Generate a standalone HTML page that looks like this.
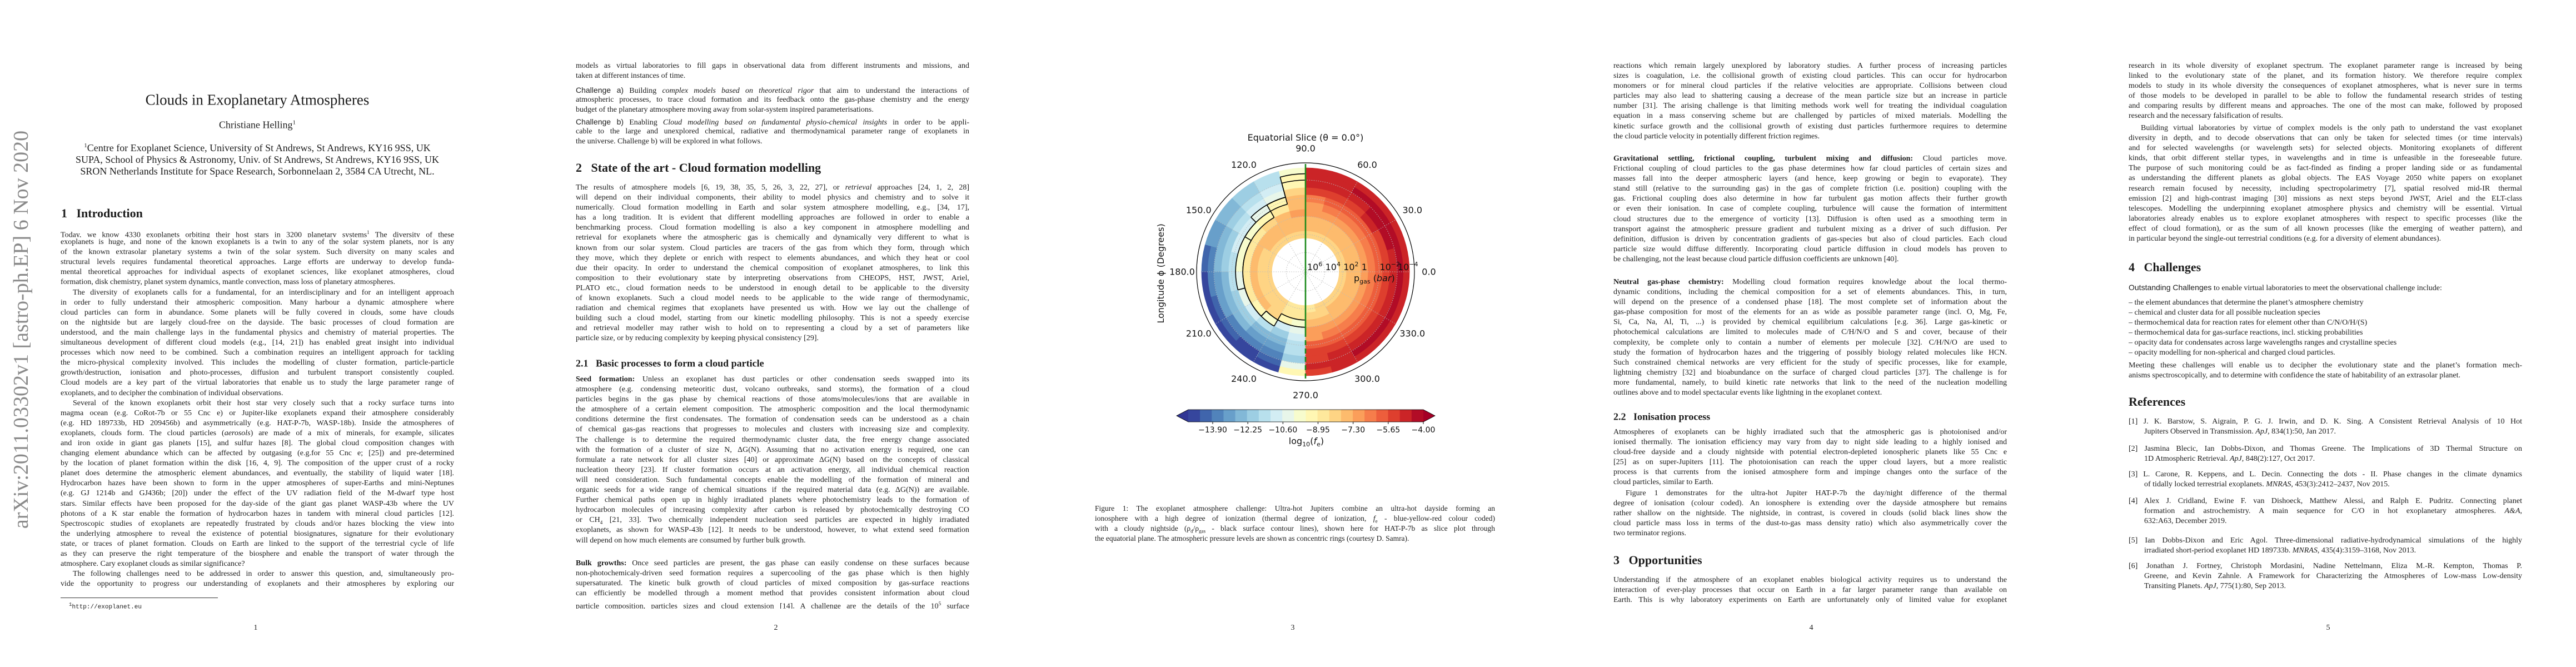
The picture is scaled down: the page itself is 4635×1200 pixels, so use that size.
<!DOCTYPE html>
<html><head><meta charset="utf-8">
<style>
html,body{margin:0;padding:0;background:#fff;}
#root{position:relative;width:4635px;height:1200px;overflow:hidden;background:#fff;color:#1c1c1c;font-family:"Liberation Serif",serif;}
.col{position:absolute;width:708px;font-size:14px;}
.l{height:18.1px;line-height:18.1px;white-space:nowrap;overflow:hidden;text-align:justify;text-align-last:justify;}
.e{text-align-last:left;}
.i{text-indent:22px;}
.h1{position:absolute;font-weight:bold;font-size:22px;white-space:nowrap;transform:translateY(-50%);}
.h2{position:absolute;font-weight:bold;font-size:18px;white-space:nowrap;transform:translateY(-50%);}
.pn{position:absolute;top:1122px;font-size:14px;width:20px;margin-left:-10px;text-align:center;}
.sans{font-family:"Liberation Sans",sans-serif;}
.ref .l{padding-left:28px;}
.ref .l:first-child{padding-left:0;}
</style></head><body>
<div id="root">

<div style="position:absolute;left:38px;top:593px;transform:translate(-50%,-50%) rotate(-90deg);font-size:38px;color:#8a8a8a;white-space:nowrap;">arXiv:2011.03302v1  [astro-ph.EP]  6 Nov 2020</div>

<!-- PAGE 1 -->
<div style="position:absolute;left:463px;top:180px;transform:translate(-50%,-50%);font-size:27px;white-space:nowrap;">Clouds in Exoplanetary Atmospheres</div>
<div style="position:absolute;left:463px;top:225px;transform:translate(-50%,-50%);font-size:18px;white-space:nowrap;">Christiane Helling<sup style="font-size:11px">1</sup></div>
<div style="position:absolute;left:463px;top:252px;transform:translateX(-50%);font-size:18px;line-height:21px;text-align:center;white-space:nowrap;"><sup style="font-size:11px">1</sup>Centre for Exoplanet Science, University of St Andrews, St Andrews, KY16 9SS, UK<br>SUPA, School of Physics &amp; Astronomy, Univ. of St Andrews, St Andrews, KY16 9SS, UK<br>SRON Netherlands Institute for Space Research, Sorbonnelaan 2, 3584 CA Utrecht, NL.</div>
<div class="h1" style="left:110px;top:384px;">1&nbsp;&nbsp;&nbsp;Introduction</div>
<div class="col" style="left:109px;top:409px;">
<div class="l">Today, we know 4330 exoplanets orbiting their host stars in 3200 planetary systems<sup style="font-size:9px">1</sup> The diversity of these</div>
<div class="l">exoplanets is huge, and none of the known exoplanets is a twin to any of the solar system planets, nor is any</div>
<div class="l">of the known extrasolar planetary systems a twin of the solar system. Such diversity on many scales and</div>
<div class="l">structural levels requires fundamental theoretical approaches. Large efforts are underway to develop funda-</div>
<div class="l">mental theoretical approaches for individual aspects of exoplanet sciences, like exoplanet atmospheres, cloud</div>
<div class="l e">formation, disk chemistry, planet system dynamics, mantle convection, mass loss of planetary atmospheres.</div>
<div class="l i">The diversity of exoplanets calls for a fundamental, for an interdisciplinary and for an intelligent approach</div>
<div class="l">in order to fully understand their atmospheric composition. Many harbour a dynamic atmosphere where</div>
<div class="l">cloud particles can form in abundance. Some planets will be fully covered in clouds, some have clouds</div>
<div class="l">on the nightside but are largely cloud-free on the dayside. The basic processes of cloud formation are</div>
<div class="l">understood, and the main challenge lays in the fundamental physics and chemistry of material properties. The</div>
<div class="l">simultaneous development of different cloud models (e.g., [14, 21]) has enabled great insight into individual</div>
<div class="l">processes which now need to be combined. Such a combination requires an intelligent approach for tackling</div>
<div class="l">the micro-physical complexity involved. This includes the modelling of cluster formation, particle-particle</div>
<div class="l">growth/destruction, ionisation and photo-processes, diffusion and turbulent transport consistently coupled.</div>
<div class="l">Cloud models are a key part of the virtual laboratories that enable us to study the large parameter range of</div>
<div class="l e">exoplanets, and to decipher the combination of individual observations.</div>
<div class="l i">Several of the known exoplanets orbit their host star very closely such that a rocky surface turns into</div>
<div class="l">magma ocean (e.g. CoRot-7b or 55 Cnc e) or Jupiter-like exoplanets expand their atmosphere considerably</div>
<div class="l">(e.g. HD 189733b, HD 209456b) and asymmetrically (e.g. HAT-P-7b, WASP-18b). Inside the atmospheres of</div>
<div class="l">exoplanets, clouds form. The cloud particles (<i>aerosols</i>) are made of a mix of minerals, for example, silicates</div>
<div class="l">and iron oxide in giant gas planets [15], and sulfur hazes [8]. The global cloud composition changes with</div>
<div class="l">changing element abundance which can be affected by outgasing (e.g.for 55 Cnc e; [25]) and pre-determined</div>
<div class="l">by the location of planet formation within the disk [16, 4, 9]. The composition of the upper crust of a rocky</div>
<div class="l">planet does determine the atmospheric element abundances, and eventually, the stability of liquid water [18].</div>
<div class="l">Hydrocarbon hazes have been shown to form in the upper atmospheres of super-Earths and mini-Neptunes</div>
<div class="l">(e.g. GJ 1214b and GJ436b; [20]) under the effect of the UV radiation field of the M-dwarf type host</div>
<div class="l">stars. Similar effects have been proposed for the day-side of the giant gas planet WASP-43b where the UV</div>
<div class="l">photons of a K star enable the formation of hydrocarbon hazes in tandem with mineral cloud particles [12].</div>
<div class="l">Spectroscopic studies of exoplanets are repeatedly frustrated by clouds and/or hazes blocking the view into</div>
<div class="l">the underlying atmosphere to reveal the existence of potential biosignatures, signature for their evolutionary</div>
<div class="l">state, or traces of planet formation. Clouds on Earth are linked to the support of the terrestrial cycle of life</div>
<div class="l">as they can preserve the right temperature of the biosphere and enable the transport of water through the</div>
<div class="l e">atmosphere. Cary exoplanet clouds as similar significance?</div>
<div class="l i">The following challenges need to be addressed in order to answer this question, and, simultaneously pro-</div>
<div class="l">vide the opportunity to progress our understanding of exoplanets and their atmospheres by exploring our</div>
</div>
<div style="position:absolute;left:109px;top:1075px;width:283px;height:1px;background:#333;"></div>
<div style="position:absolute;left:124px;top:1082px;font-size:11px;font-family:'Liberation Mono',monospace;"><sup>1</sup>http://exoplanet.eu</div>
<div class="pn" style="left:460px;">1</div>

<!-- PAGE 2 -->
<div class="col" style="left:1036px;top:110px;">
<div class="l">models as virtual laboratories to fill gaps in observational data from different instruments and missions, and</div>
<div class="l e">taken at different instances of time.</div>
</div>
<div class="col" style="left:1036px;top:153px;">
<div class="l"><span class="sans">Challenge a)</span> Building <i>complex models based on theoretical rigor</i> that aim to understand the interactions of</div>
<div class="l">atmospheric processes, to trace cloud formation and its feedback onto the gas-phase chemistry and the energy</div>
<div class="l e">budget of the planetary atmosphere moving away from solar-system inspired parameterisations.</div>
</div>
<div class="col" style="left:1036px;top:210px;">
<div class="l"><span class="sans">Challenge b)</span> Enabling <i>Cloud modelling based on fundamental physio-chemical insights</i> in order to be appli-</div>
<div class="l">cable to the large and unexplored chemical, radiative and thermodynamical parameter range of exoplanets in</div>
<div class="l e">the universe. Challenge b) will be explored in what follows.</div>
</div>
<div class="h1" style="left:1036px;top:302px;">2&nbsp;&nbsp;&nbsp;State of the art - Cloud formation modelling</div>
<div class="col" style="left:1036px;top:329px;">
<div class="l">The results of atmosphere models [6, 19, 38, 35, 5, 26, 3, 22, 27], or <i>retrieval</i> approaches [24, 1, 2, 28]</div>
<div class="l">will depend on their individual components, their ability to model physics and chemistry and to solve it</div>
<div class="l">numerically. Cloud formation modelling in Earth and solar system atmosphere modelling, e.g., [34, 17],</div>
<div class="l">has a long tradition. It is evident that different modelling approaches are followed in order to enable a</div>
<div class="l">benchmarking process. Cloud formation modelling is also a key component in atmosphere modelling and</div>
<div class="l">retrieval for exoplanets where the atmospheric gas is chemically and dynamically very different to what is</div>
<div class="l">known from our solar system. Cloud particles are tracers of the gas from which they form, through which</div>
<div class="l">they move, which they deplete or enrich with respect to elements abundances, and which they heat or cool</div>
<div class="l">due their opacity. In order to understand the chemical composition of exoplanet atmospheres, to link this</div>
<div class="l">composition to their evolutionary state by interpreting observations from CHEOPS, HST, JWST, Ariel,</div>
<div class="l">PLATO etc., cloud formation needs to be understood in enough detail to be applicable to the diversity</div>
<div class="l">of known exoplanets. Such a cloud model needs to be applicable to the wide range of thermodynamic,</div>
<div class="l">radiation and chemical regimes that exoplanets have presented us with. How we lay out the challenge of</div>
<div class="l">building such a cloud model, starting from our kinetic modelling philosophy. This is not a speedy exercise</div>
<div class="l">and retrieval modeller may rather wish to hold on to representing a cloud by a set of parameters like</div>
<div class="l e">particle size, or by reducing complexity by keeping physical consistency [29].</div>
</div>
<div class="h2" style="left:1036px;top:654px;">2.1&nbsp;&nbsp;&nbsp;Basic processes to form a cloud particle</div>
<div class="col" style="left:1036px;top:674px;">
<div class="l"><b>Seed formation:</b> Unless an exoplanet has dust particles or other condensation seeds swapped into its</div>
<div class="l">atmosphere (e.g. condensing meteoritic dust, volcano outbreaks, sand storms), the formation of a cloud</div>
<div class="l">particles begins in the gas phase by chemical reactions of those atoms/molecules/ions that are available in</div>
<div class="l">the atmosphere of a certain element composition. The atmospheric composition and the local thermodynamic</div>
<div class="l">conditions determine the first condensates. The formation of condensation seeds can be understood as a chain</div>
<div class="l">of chemical gas-gas reactions that progresses to molecules and clusters with increasing size and complexity.</div>
<div class="l">The challenge is to determine the required thermodynamic cluster data, the free energy change associated</div>
<div class="l">with the formation of a cluster of size N, ΔG(N). Assuming that no activation energy is required, one can</div>
<div class="l">formulate a rate network for all cluster sizes [40] or approximate ΔG(N) based on the concepts of classical</div>
<div class="l">nucleation theory [23]. If cluster formation occurs at an activation energy, all individual chemical reaction</div>
<div class="l">will need consideration. Such fundamental concepts enable the modelling of the formation of mineral and</div>
<div class="l">organic seeds for a wide range of chemical situations if the required material data (e.g. ΔG(N)) are available.</div>
<div class="l">Further chemical paths open up in highly irradiated planets where photochemistry leads to the formation of</div>
<div class="l">hydrocarbon molecules of increasing complexity after carbon is released by photochemically destroying CO</div>
<div class="l">or CH<sub style="font-size:9px">4</sub> [21, 33]. Two chemically independent nucleation seed particles are expected in highly irradiated</div>
<div class="l">exoplanets, as shown for WASP-43b [12]. It needs to be understood, however, to what extend seed formation</div>
<div class="l e">will depend on how much elements are consumed by further bulk growth.</div>
</div>
<div class="col" style="left:1036px;top:1005px;">
<div class="l"><b>Bulk growths:</b> Once seed particles are present, the gas phase can easily condense on these surfaces because</div>
<div class="l">non-photochemicaly-driven seed formation requires a supercooling of the gas phase which is then highly</div>
<div class="l">supersaturated. The kinetic bulk growth of cloud particles of mixed composition by gas-surface reactions</div>
<div class="l">can efficiently be modelled through a moment method that provides consistent information about cloud</div>
<div class="l">particle composition, particles sizes and cloud extension [14]. A challenge are the details of the 10<sup style="font-size:9px">5</sup> surface</div>
</div>
<div class="pn" style="left:1396px;">2</div>

<!-- PAGE 3 : figure -->
<svg id="chart" style="position:absolute;left:0;top:0;" width="4635" height="1200" font-family="DejaVu Sans, sans-serif"></svg>
<div class="col" style="left:1970px;top:906px;width:720px;font-size:13.5px;">
<div class="l">Figure 1: The exoplanet atmosphere challenge: Ultra-hot Jupiters combine an ultra-hot dayside forming an</div>
<div class="l">ionosphere with a high degree of ionization (thermal degree of ionization, <i>f</i><sub style="font-size:9px">e</sub> - blue-yellow-red colour coded)</div>
<div class="l">with a cloudy nightside (ρ<sub style="font-size:9px">d</sub>/ρ<sub style="font-size:9px">gas</sub> - black surface contour lines), shown here for HAT-P-7b as slice plot through</div>
<div class="l e">the equatorial plane. The atmospheric pressure levels are shown as concentric rings (courtesy D. Samra).</div>
</div>
<div class="pn" style="left:2326px;">3</div>

<!-- PAGE 4 -->
<div class="col" style="left:2903px;top:110px;">
<div class="l">reactions which remain largely unexplored by laboratory studies. A further process of increasing particles</div>
<div class="l">sizes is coagulation, i.e. the collisional growth of existing cloud particles. This can occur for hydrocarbon</div>
<div class="l">monomers or for mineral cloud particles if the relative velocities are appropriate. Collisions between cloud</div>
<div class="l">particles may also lead to shattering causing a decrease of the mean particle size but an increase in particle</div>
<div class="l">number [31]. The arising challenge is that limiting methods work well for treating the individual coagulation</div>
<div class="l">equation in a mass conserving scheme but are challenged by particles of mixed materials. Modelling the</div>
<div class="l">kinetic surface growth and the collisional growth of existing dust particles furthermore requires to determine</div>
<div class="l e">the cloud particle velocity in potentially different friction regimes.</div>
</div>
<div class="col" style="left:2903px;top:277px;">
<div class="l"><b>Gravitational settling, frictional coupling, turbulent mixing and diffusion:</b> Cloud particles move.</div>
<div class="l">Frictional coupling of cloud particles to the gas phase determines how far cloud particles of certain sizes and</div>
<div class="l">masses fall into the deeper atmospheric layers (and hence, keep growing or begin to evaporate). They</div>
<div class="l">stand still (relative to the surrounding gas) in the gas of complete friction (i.e. position) coupling with the</div>
<div class="l">gas. Frictional coupling does also determine in how far turbulent gas motion affects their further growth</div>
<div class="l">or even their ionisation. In case of complete coupling, turbulence will cause the formation of intermittent</div>
<div class="l">cloud structures due to the emergence of vorticity [13]. Diffusion is often used as a smoothing term in</div>
<div class="l">transport against the atmospheric pressure gradient and turbulent mixing as a driver of such diffusion. Per</div>
<div class="l">definition, diffusion is driven by concentration gradients of gas-species but also of cloud particles. Each cloud</div>
<div class="l">particle size would diffuse differently. Incorporating cloud particle diffusion in cloud models has proven to</div>
<div class="l e">be challenging, not the least because cloud particle diffusion coefficients are unknown [40].</div>
</div>
<div class="col" style="left:2903px;top:499px;">
<div class="l"><b>Neutral gas-phase chemistry:</b> Modelling cloud formation requires knowledge about the local thermo-</div>
<div class="l">dynamic conditions, including the chemical composition for a set of elements abundances. This, in turn,</div>
<div class="l">will depend on the presence of a condensed phase [18]. The most complete set of information about the</div>
<div class="l">gas-phase composition for most of the elements for an as wide as possible parameter range (incl. O, Mg, Fe,</div>
<div class="l">Si, Ca, Na, Al, Ti, ...) is provided by chemical equilibrium calculations [e.g. 36]. Large gas-kinetic or</div>
<div class="l">photochemical calculations are limited to molecules made of C/H/N/O and S and cover, because of their</div>
<div class="l">complexity, be complete only to contain a number of elements per molecule [32]. C/H/N/O are used to</div>
<div class="l">study the formation of hydrocarbon hazes and the triggering of possibly biology related molecules like HCN.</div>
<div class="l">Such constrained chemical networks are very efficient for the study of specific processes, like for example,</div>
<div class="l">lightning chemistry [32] and bioabundance on the surface of charged cloud particles [37]. The challenge is for</div>
<div class="l">more fundamental, namely, to build kinetic rate networks that link to the need of the nucleation modelling</div>
<div class="l e">outlines above and to model spectacular events like lightning in the exoplanet context.</div>
</div>
<div class="h2" style="left:2903px;top:750px;">2.2&nbsp;&nbsp;&nbsp;Ionisation process</div>
<div class="col" style="left:2903px;top:769px;">
<div class="l">Atmospheres of exoplanets can be highly irradiated such that the atmospheric gas is photoionised and/or</div>
<div class="l">ionised thermally. The ionisation efficiency may vary from day to night side leading to a highly ionised and</div>
<div class="l">cloud-free dayside and a cloudy nightside with potential electron-depleted ionospheric planets like 55 Cnc e</div>
<div class="l">[25] as on super-Jupiters [11]. The photoionisation can reach the upper cloud layers, but a more realistic</div>
<div class="l">process is that currents from the ionised atmosphere form and impinge changes onto the surface of the</div>
<div class="l e">cloud particles, similar to Earth.</div>
</div>
<div class="col" style="left:2903px;top:879px;">
<div class="l i">Figure 1 demonstrates for the ultra-hot Jupiter HAT-P-7b the day/night difference of the thermal</div>
<div class="l">degree of ionisation (colour coded). An ionosphere is extending over the dayside atmosphere but remains</div>
<div class="l">rather shallow on the nightside. The nightside, in contrast, is covered in clouds (solid black lines show the</div>
<div class="l">cloud particle mass loss in terms of the dust-to-gas mass density ratio) which also asymmetrically cover the</div>
<div class="l e">two terminator regions.</div>
</div>
<div class="h1" style="left:2903px;top:1008px;">3&nbsp;&nbsp;&nbsp;Opportunities</div>
<div class="col" style="left:2903px;top:1035px;">
<div class="l">Understanding if the atmosphere of an exoplanet enables biological activity requires us to understand the</div>
<div class="l">interaction of ever-play processes that occur on Earth in a far larger parameter range than available on</div>
<div class="l">Earth. This is why laboratory experiments on Earth are unfortunately only of limited value for exoplanet</div>
</div>
<div class="pn" style="left:3259px;">4</div>

<!-- PAGE 5 -->
<div class="col" style="left:3830px;top:110px;">
<div class="l">research in its whole diversity of exoplanet spectrum. The exoplanet parameter range is increased by being</div>
<div class="l">linked to the evolutionary state of the planet, and its formation history. We therefore require complex</div>
<div class="l">models to study in its whole diversity the consequences of exoplanet atmospheres, what is never sure in terms</div>
<div class="l">of those models to be developed in parallel to be able to follow the fundamental research strides of testing</div>
<div class="l">and comparing results by different means and approaches. The one of the most can make, followed by proposed</div>
<div class="l e">research and the necessary falsification of results.</div>
</div>
<div class="col" style="left:3830px;top:222px;">
<div class="l i">Building virtual laboratories by virtue of complex models is the only path to understand the vast exoplanet</div>
<div class="l">diversity in depth, and to decode observations that can only be taken for selected times (or time intervals)</div>
<div class="l">and for selected wavelengths (or wavelength sets) for selected objects. Monitoring exoplanets of different</div>
<div class="l">kinds, that orbit different stellar types, in wavelengths and in time is unfeasible in the foreseeable future.</div>
<div class="l">The purpose of such monitoring could be as fact-finded as finding a proper landing side or as fundamental</div>
<div class="l">as understanding the different planets as global objects. The EAS Voyage 2050 white papers on exoplanet</div>
<div class="l">research remain focused by necessity, including spectropolarimetry [7], spatial resolved mid-IR thermal</div>
<div class="l">emission [2] and high-contrast imaging [30] missions as next steps beyond JWST, Ariel and the ELT-class</div>
<div class="l">telescopes. Modelling the underpinning exoplanet atmosphere physics and chemistry will be essential. Virtual</div>
<div class="l">laboratories already enables us to explore exoplanet atmospheres with respect to specific processes (like the</div>
<div class="l">effect of cloud formation), or as the sum of all known processes (like the emerging of weather pattern), and</div>
<div class="l e">in particular beyond the single-out terrestrial conditions (e.g. for a diversity of element abundances).</div>
</div>
<div class="h1" style="left:3830px;top:481px;">4&nbsp;&nbsp;&nbsp;Challenges</div>
<div class="col" style="left:3830px;top:508px;">
<div class="l e"><span class="sans">Outstanding Challenges</span> to enable virtual laboratories to meet the observational challenge include:</div>
</div>
<div class="col" style="left:3830px;top:536px;">
<div class="l e">– the element abundances that determine the planet’s atmosphere chemistry</div>
<div class="l e">– chemical and cluster data for all possible nucleation species</div>
<div class="l e">– thermochemical data for reaction rates for element other than C/N/O/H/(S)</div>
<div class="l e">– thermochemical data for gas-surface reactions, incl. sticking probabilities</div>
<div class="l e">– opacity data for condensates across large wavelengths ranges and crystalline species</div>
<div class="l e">– opacity modelling for non-spherical and charged cloud particles.</div>
</div>
<div class="col" style="left:3830px;top:649px;">
<div class="l">Meeting these challenges will enable us to decipher the evolutionary state and the planet’s formation mech-</div>
<div class="l e">anisms spectroscopically, and to determine with confidence the state of habitability of an extrasolar planet.</div>
</div>
<div class="h1" style="left:3830px;top:723px;">References</div>
<div class="col ref" style="left:3830px;top:750px;">
<div class="l">[1] J. K. Barstow, S. Aigrain, P. G. J. Irwin, and D. K. Sing. A Consistent Retrieval Analysis of 10 Hot</div>
<div class="l e">Jupiters Observed in Transmission. <i>ApJ</i>, 834(1):50, Jan 2017.</div>
</div>
<div class="col ref" style="left:3830px;top:799px;">
<div class="l">[2] Jasmina Blecic, Ian Dobbs-Dixon, and Thomas Greene. The Implications of 3D Thermal Structure on</div>
<div class="l e">1D Atmospheric Retrieval. <i>ApJ</i>, 848(2):127, Oct 2017.</div>
</div>
<div class="col ref" style="left:3830px;top:845px;">
<div class="l">[3] L. Carone, R. Keppens, and L. Decin. Connecting the dots - II. Phase changes in the climate dynamics</div>
<div class="l e">of tidally locked terrestrial exoplanets. <i>MNRAS</i>, 453(3):2412–2437, Nov 2015.</div>
</div>
<div class="col ref" style="left:3830px;top:893px;">
<div class="l">[4] Alex J. Cridland, Ewine F. van Dishoeck, Matthew Alessi, and Ralph E. Pudritz. Connecting planet</div>
<div class="l">formation and astrochemistry. A main sequence for C/O in hot exoplanetary atmospheres. <i>A&amp;A</i>,</div>
<div class="l e">632:A63, December 2019.</div>
</div>
<div class="col ref" style="left:3830px;top:964px;">
<div class="l">[5] Ian Dobbs-Dixon and Eric Agol. Three-dimensional radiative-hydrodynamical simulations of the highly</div>
<div class="l e">irradiated short-period exoplanet HD 189733b. <i>MNRAS</i>, 435(4):3159–3168, Nov 2013.</div>
</div>
<div class="col ref" style="left:3830px;top:1010px;">
<div class="l">[6] Jonathan J. Fortney, Christoph Mordasini, Nadine Nettelmann, Eliza M.-R. Kempton, Thomas P.</div>
<div class="l">Greene, and Kevin Zahnle. A Framework for Characterizing the Atmospheres of Low-mass Low-density</div>
<div class="l e">Transiting Planets. <i>ApJ</i>, 775(1):80, Sep 2013.</div>
</div>
<div class="pn" style="left:4189px;">5</div>
</div>

<script>
// ---- chart data ----
const lonCenters = [7.5,22.5,37.5,52.5,67.5,82.5,97.5,112.5,127.5,142.5,157.5,172.5,187.5,202.5,217.5,232.5,247.5,262.5,277.5,292.5,307.5,322.5,337.5,352.5];
const pressureEdges = [2.4,1.6,0.8,0,-0.8,-1.6,-2.4,-3.2,-4.0,-4.7,-5.35];
const fieldValues = [
 [-8.2,-7.8,-7.4,-7.0,-6.6,-6.0,-5.3,-4.6,-4.4,-4.9],
 [-8.2,-7.8,-7.4,-7.0,-6.6,-6.0,-5.2,-4.5,-4.3,-4.9],
 [-8.2,-7.8,-7.4,-7.0,-6.6,-5.9,-5.1,-4.5,-4.3,-4.9],
 [-8.2,-7.8,-7.4,-7.0,-6.7,-6.0,-5.2,-4.6,-4.4,-4.9],
 [-8.2,-7.8,-7.4,-7.1,-6.7,-6.1,-5.4,-4.8,-4.6,-5.0],
 [-8.3,-7.8,-7.5,-7.2,-6.8,-6.3,-5.6,-5.0,-4.8,-5.0],
 [-8.2,-7.8,-7.5,-7.3,-7.5,-7.8,-8.3,-9.0,-9.5,-10.0],
 [-8.3,-7.8,-7.6,-7.8,-8.5,-9.5,-10.5,-11.0,-11.5,-11.5],
 [-8.3,-7.8,-7.5,-8.0,-9.3,-10.3,-11.0,-11.5,-11.8,-12.0],
 [-8.3,-7.8,-7.5,-8.5,-9.8,-10.8,-11.5,-12.0,-12.5,-12.8],
 [-8.3,-7.9,-7.6,-8.5,-10.0,-11.0,-11.8,-12.5,-13.0,-13.3],
 [-8.3,-7.9,-7.6,-8.6,-10.0,-11.2,-12.0,-12.8,-13.5,-14.0],
 [-8.3,-7.9,-7.6,-8.6,-10.2,-11.5,-12.3,-13.0,-13.8,-14.5],
 [-8.3,-7.9,-7.6,-8.8,-10.5,-11.8,-12.5,-13.3,-14.0,-14.6],
 [-8.3,-7.9,-7.7,-9.2,-11.0,-12.0,-12.8,-13.5,-14.3,-14.8],
 [-8.3,-8.0,-8.2,-10.0,-11.5,-12.3,-13.0,-13.8,-14.5,-14.8],
 [-8.5,-8.6,-9.5,-11.0,-12.0,-12.5,-13.0,-13.5,-14.0,-14.5],
 [-8.6,-8.8,-9.8,-10.5,-11.0,-11.5,-11.5,-11.8,-10.5,-9.5],
 [-8.5,-8.0,-7.6,-7.3,-6.8,-6.2,-5.6,-5.2,-5.0,-5.2],
 [-8.3,-7.9,-7.5,-7.1,-6.7,-6.1,-5.4,-4.9,-4.7,-5.0],
 [-8.2,-7.8,-7.4,-7.0,-6.6,-6.0,-5.3,-4.7,-4.5,-4.9],
 [-8.2,-7.8,-7.4,-7.0,-6.6,-6.0,-5.2,-4.6,-4.4,-4.9],
 [-8.2,-7.8,-7.4,-7.0,-6.6,-6.0,-5.2,-4.6,-4.4,-4.9],
 [-8.2,-7.8,-7.4,-7.0,-6.6,-6.0,-5.3,-4.6,-4.4,-4.9]
];
const contourLevels = [-9.3,-9.9,-10.5];
const pressureTicks = [6,4,2,0,-2,-4];
const pressureTickLabels = ["10|6","10|4","10|2","1","10|−2","10|−4"];
const angleTicks = [0,30,60,90,120,150,180,210,240,270,300,330];
const colorbarTicks = [-13.90,-12.25,-10.60,-8.95,-7.30,-5.65,-4.00];
const colorbarTickLabels = ["−13.90","−12.25","−10.60","−8.95","−7.30","−5.65","−4.00"];
const colorLevels = 20;
const colorMin = -15.05, colorMax = -4.0;

// ---- layout ----
const NS = "http://www.w3.org/2000/svg";
const svg = document.getElementById('chart');
const cx = 2349, cy = 489, frameR = 196;
const sectorWidth = 15;
function rScale(logp){ return 2 + (6 - logp) / 2 * 32.6; }
function px(r, deg){ return cx + r * Math.cos(deg * Math.PI / 180); }
function py(r, deg){ return cy - r * Math.sin(deg * Math.PI / 180); }
const anchors = ["#313695","#4575b4","#74add1","#abd9e9","#e0f3f8","#ffffbf","#fee090","#fdae61","#f46d43","#d73027","#a50026"];
function hex(h){ return [parseInt(h.substr(1,2),16),parseInt(h.substr(3,2),16),parseInt(h.substr(5,2),16)]; }
function cmap(t){
  t = Math.max(0, Math.min(1, t));
  const f = t * (anchors.length - 1), i = Math.min(Math.floor(f), anchors.length - 2), u = f - i;
  const a = hex(anchors[i]), b = hex(anchors[i+1]);
  return 'rgb(' + a.map((v,k)=>Math.round(v + (b[k]-v)*u)).join(',') + ')';
}
function levelColor(v){
  let idx = Math.floor((v - colorMin) / (colorMax - colorMin) * colorLevels);
  idx = Math.max(0, Math.min(colorLevels - 1, idx));
  return cmap((idx + 0.5) / colorLevels);
}
function mk(tag, attrs){ const e = document.createElementNS(NS, tag); for (const k in attrs) e.setAttribute(k, attrs[k]); svg.appendChild(e); return e; }
function wedge(r0, r1, a0, a1){
  return 'M' + px(r1,a0) + ',' + py(r1,a0) + ' A' + r1 + ',' + r1 + ' 0 0 0 ' + px(r1,a1) + ',' + py(r1,a1) +
         ' L' + px(r0,a1) + ',' + py(r0,a1) + ' A' + r0 + ',' + r0 + ' 0 0 1 ' + px(r0,a0) + ',' + py(r0,a0) + ' Z';
}

// frame
const frame = mk('circle', {cx:cx, cy:cy, r:frameR, fill:'none', stroke:'#000', 'stroke-width':1.2});



// heatmap cells
lonCenters.forEach((lon, i) => {
  fieldValues[i].forEach((v, j) => {
    const r0 = rScale(pressureEdges[j]), r1 = rScale(pressureEdges[j+1]);
    const col = levelColor(v);
    const cell = mk('path', {d: wedge(r0, r1, lon - sectorWidth/2, lon + sectorWidth/2), fill: col, stroke: col, 'stroke-width': 0.8});
    
    
  });
});

// grid
pressureTicks.forEach(p => {
  const g = mk('circle', {cx:cx, cy:cy, r:rScale(p), fill:'none', stroke:'#bbb', 'stroke-width':1, 'stroke-dasharray':'1.5,2.5'});
  
  
});
angleTicks.forEach(a => {
  const g = mk('line', {x1:cx, y1:cy, x2:px(rScale(pressureEdges[pressureEdges.length-1]), a), y2:py(rScale(pressureEdges[pressureEdges.length-1]), a), stroke:'#bbb', 'stroke-width':1, 'stroke-dasharray':'1.5,2.5'});
  
  
});

// contour lines derived from data
contourLevels.forEach(level => {
  let prev = null;
  lonCenters.forEach((lon, i) => {
    const vals = fieldValues[i];
    let k = -1;
    for (let j = 1; j < vals.length; j++) { if (vals[j-1] > level && vals[j] <= level) { k = j; break; } }
    if (k < 0) { prev = null; return; }
    const r = rScale(pressureEdges[k]);
    const a0 = lon - sectorWidth/2, a1 = lon + sectorWidth/2;
    const c = mk('path', {d:'M' + px(r,a0) + ',' + py(r,a0) + ' A' + r + ',' + r + ' 0 0 0 ' + px(r,a1) + ',' + py(r,a1), fill:'none', stroke:'#000', 'stroke-width':1.6});
    
    
    if (prev !== null && Math.abs(prev - r) > 0.1) {
      const s = mk('line', {x1:px(prev,a0), y1:py(prev,a0), x2:px(r,a0), y2:py(r,a0), stroke:'#000', 'stroke-width':1.6});
      
      
    }
    prev = r;
  });
});

// terminator line
const outerR = rScale(pressureEdges[pressureEdges.length-1]) + 7;
const g1 = mk('line', {x1:cx, y1:cy-outerR, x2:cx, y2:cy+108, stroke:'#1a8a1a', 'stroke-width':2.6});


const g2 = mk('line', {x1:cx, y1:cy+108, x2:cx, y2:cy+outerR, stroke:'#1a8a1a', 'stroke-width':2.6, 'stroke-dasharray':'9,6'});



// angle labels
angleTicks.forEach(a => {
  const t = mk('text', {x:px(222,a), y:py(222,a), 'text-anchor':'middle', 'dominant-baseline':'central', 'font-size':16, fill:'#111'});
  t.textContent = a.toFixed(1);
  
  
});

// pressure tick labels
pressureTicks.forEach((p, i) => {
  const parts = pressureTickLabels[i].split('|');
  const t = mk('text', {x:cx + rScale(p) + 1, y:cy - 3, 'font-size':16, fill:'#111'});
  t.textContent = parts[0];
  if (parts[1]) { const s = document.createElementNS(NS,'tspan'); s.setAttribute('dy', -7); s.setAttribute('font-size', 11); s.textContent = parts[1]; t.appendChild(s); }
  
  
});
const pl = mk('text', {x:2436, y:cy + 17, 'font-size':16, fill:'#111'});
pl.innerHTML = 'p<tspan font-size="11" dy="4">gas</tspan><tspan dy="-4"> (</tspan><tspan font-style="italic">bar</tspan><tspan>)</tspan>';



// title and y label
const tt = mk('text', {x:cx, y:253, 'text-anchor':'middle', 'font-size':16, fill:'#111'});
tt.textContent = 'Equatorial Slice (θ  =  0.0°)';


const yl = mk('text', {x:0, y:0, 'text-anchor':'middle', 'font-size':16, fill:'#111', transform:'translate(2094,492) rotate(-90)'});
yl.textContent = 'Longitude ϕ (Degrees)';



// colorbar
const cbX0 = 2138, cbX1 = 2561, cbY = 737, cbH = 22;
function cbScale(v){ return cbX0 + (v - colorMin) / (colorMax - colorMin) * (cbX1 - cbX0); }
for (let k = 0; k < colorLevels; k++) {
  const v0 = colorMin + k * (colorMax - colorMin) / colorLevels, v1 = colorMin + (k+1) * (colorMax - colorMin) / colorLevels;
  const r = mk('rect', {x:cbScale(v0), y:cbY, width:cbScale(v1) - cbScale(v0) + 0.5, height:cbH, fill:cmap((k + 0.5) / colorLevels)});
  
  
}
const la = mk('polygon', {points: cbX0 + ',' + cbY + ' ' + (cbX0-21) + ',' + (cbY+cbH/2) + ' ' + cbX0 + ',' + (cbY+cbH), fill:cmap(0)});


const ra = mk('polygon', {points: cbX1 + ',' + cbY + ' ' + (cbX1+21) + ',' + (cbY+cbH/2) + ' ' + cbX1 + ',' + (cbY+cbH), fill:cmap(1)});


const ob = mk('polygon', {points: (cbX0-21)+','+(cbY+cbH/2)+' '+cbX0+','+cbY+' '+cbX1+','+cbY+' '+(cbX1+21)+','+(cbY+cbH/2)+' '+cbX1+','+(cbY+cbH)+' '+cbX0+','+(cbY+cbH), fill:'none', stroke:'#000', 'stroke-width':0.8});


colorbarTicks.forEach((v, i) => {
  const tk = mk('line', {x1:cbScale(v), y1:cbY+cbH, x2:cbScale(v), y2:cbY+cbH+4, stroke:'#000', 'stroke-width':1});
  
  
  const t = mk('text', {x:cbScale(v), y:cbY+cbH+19, 'text-anchor':'middle', 'font-size':14, fill:'#111'});
  t.textContent = colorbarTickLabels[i];
  
  
});
const cl = mk('text', {x:cbScale(-9.5), y:cbY+cbH+40, 'text-anchor':'middle', 'font-size':16, fill:'#111'});
cl.innerHTML = 'log<tspan font-size="11" dy="4">10</tspan><tspan dy="-4">(</tspan><tspan font-style="italic">f</tspan><tspan font-size="11" dy="4">e</tspan><tspan dy="-4">)</tspan>';


</script>
</body></html>
